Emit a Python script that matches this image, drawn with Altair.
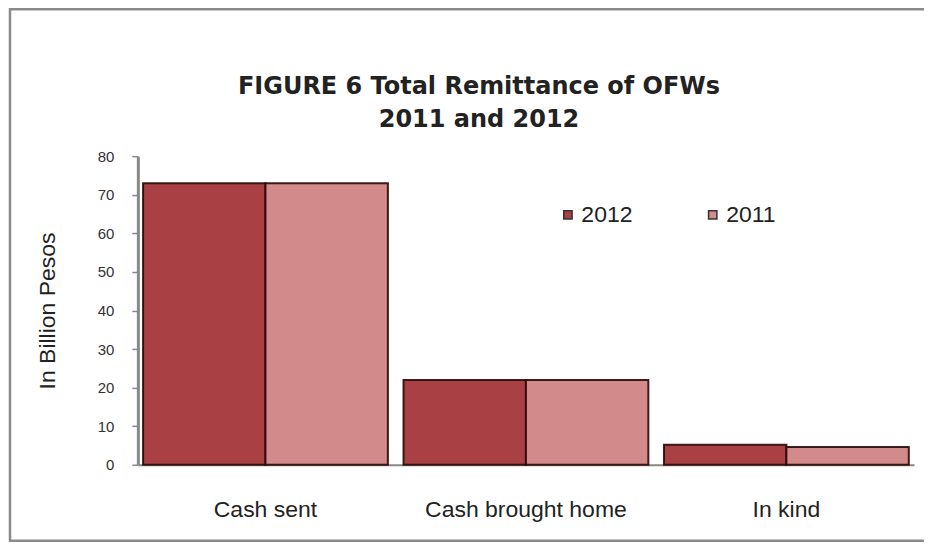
import altair as alt
import pandas as pd

categories = ["Cash sent", "Cash brought home", "In kind"]
years = ["2012", "2011"]
values_2012 = [73.0, 22.0, 5.2]
values_2011 = [73.0, 22.0, 4.6]

rows = []
for c, v12, v11 in zip(categories, values_2012, values_2011):
    rows.append({"category": c, "year": "2012", "value": v12})
    rows.append({"category": c, "year": "2011", "value": v11})
df = pd.DataFrame(rows)

FONT = "Liberation Sans"

bars = alt.Chart(df).mark_bar(stroke="#2a0808", strokeWidth=2, strokeOpacity=0.9).encode(
    x=alt.X("category:N", sort=categories,
            scale=alt.Scale(paddingInner=0.06, paddingOuter=0.02),
            axis=alt.Axis(title=None, labelAngle=0, ticks=False, labelPadding=34,
                          labelFontSize=23, labelColor="#222", labelFont=FONT,
                          labelLimit=400,
                          domainColor="#888", domainWidth=2)),
    xOffset=alt.XOffset("year:N", sort=years),
    y=alt.Y("value:Q", scale=alt.Scale(domain=[0, 80], nice=False),
            axis=alt.Axis(title="In Billion Pesos", values=list(range(0, 90, 10)),
                          grid=False, tickSize=6, tickColor="#888", tickWidth=1.5,
                          domainColor="#888", domainWidth=3,
                          labelPadding=18, labelFontSize=15, labelColor="#333",
                          labelFont=FONT, titleFont=FONT, titleFontSize=23,
                          titleFontWeight="normal", titleColor="#222",
                          titlePadding=38)),
    color=alt.Color("year:N", sort=years,
                    scale=alt.Scale(domain=years, range=["#A84044", "#D38A8A"]),
                    legend=alt.Legend(title=None, orient="none", legendX=419, legendY=47,
                                      direction="horizontal", columns=2,
                                      columnPadding=68, symbolType="square",
                                      symbolSize=70, symbolStrokeColor="#333",
                                      symbolStrokeWidth=1.5, labelFontSize=23,
                                      labelFont=FONT, labelColor="#222",
                                      labelOffset=2)),
)

frame = alt.Chart(pd.DataFrame({"k": [0]})).mark_rect(
    fill=None, stroke="#8a8a8a", strokeWidth=2.5, clip=False
).encode(
    x=alt.value(-128), x2=alt.value(1000), y=alt.value(-147), y2=alt.value(385)
)

chart = alt.layer(frame, bars).properties(
    width=777, height=309,
    padding={"left": 130, "top": 148, "right": 10, "bottom": 79},
    autosize=alt.AutoSizeParams(type="none"),
    view=alt.ViewBackground(strokeWidth=0, stroke="transparent"),
    title=alt.TitleParams(
        text=["FIGURE 6 Total Remittance of OFWs", "2011 and 2012"],
        font="DejaVu Sans", fontSize=24, fontWeight="bold", color="#222",
        anchor="middle", frame="group", dx=-47, offset=-124, lineHeight=33,
    ),
).configure_view(strokeWidth=0, stroke="transparent").configure(background="white")

chart.save("out.html", embed_options={"renderer": "svg", "actions": False})
